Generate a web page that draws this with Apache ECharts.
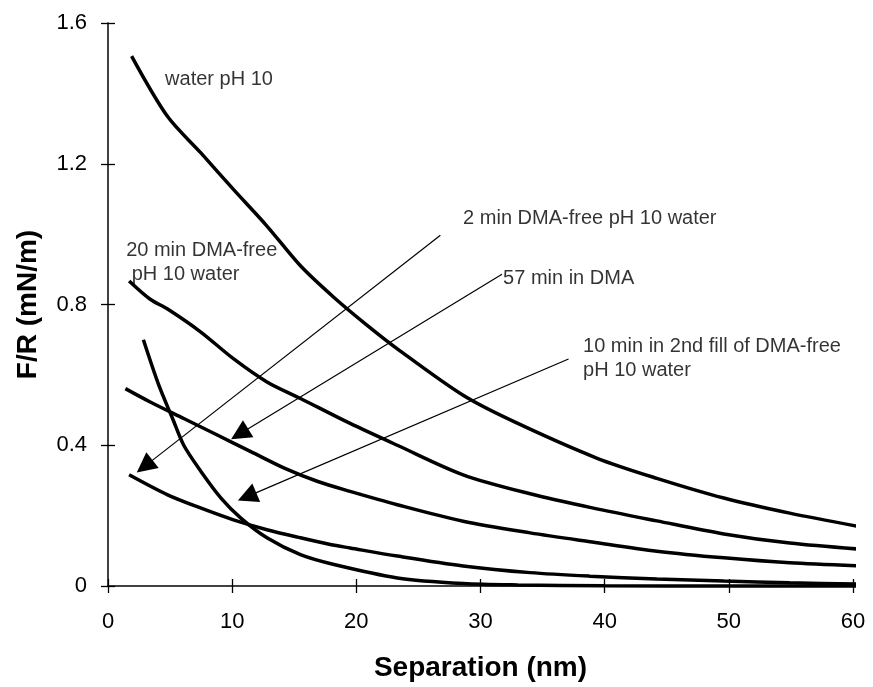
<!DOCTYPE html>
<html>
<head>
<meta charset="utf-8">
<script src="https://cdn.jsdelivr.net/npm/echarts@6/dist/echarts.min.js"></script>
<style>html,body{margin:0;padding:0;background:#fff}#c{width:873px;height:687px}</style>
</head>
<body>
<div id="c"></div>
<script>
// ---- data (Separation nm, F/R mN/m) ----
const xTicks = [0, 10, 20, 30, 40, 50, 60];
const yTicks = [0, 0.4, 0.8, 1.2, 1.6];

const sepWater = [1.9, 4.8, 7.5, 10.1, 12.8, 15.5, 18.2, 20.9, 23.3, 28.6, 32.7, 39.4, 44.2, 49.6, 54.9, 60.8];
const frWater  = [1.506, 1.334, 1.23, 1.127, 1.023, 0.91, 0.82, 0.74, 0.674, 0.542, 0.467, 0.363, 0.306, 0.25, 0.207, 0.167];

const sep20min = [1.7, 3.4, 4.8, 7.5, 10.1, 12.8, 15.5, 19.5, 23.3, 28.6, 34.0, 39.0, 44.2, 49.6, 54.9, 60.8];
const fr20min  = [0.867, 0.815, 0.787, 0.721, 0.646, 0.58, 0.533, 0.462, 0.40, 0.316, 0.262, 0.222, 0.185, 0.148, 0.122, 0.104];

const sep57min = [1.4, 3.4, 6.1, 8.8, 11.5, 14.2, 16.9, 19.5, 23.3, 28.6, 34.0, 39.0, 44.2, 49.6, 54.9, 60.8];
const fr57min  = [0.561, 0.523, 0.476, 0.429, 0.382, 0.335, 0.297, 0.269, 0.231, 0.184, 0.151, 0.125, 0.099, 0.080, 0.066, 0.057];

const sep10min = [2.85, 4.1, 5.2, 6.1, 7.5, 9.1, 10.7, 12.8, 15.5, 18.2, 23.3, 28.6, 33.0, 40.0, 50.0, 60.8];
const fr10min  = [0.70, 0.57, 0.476, 0.40, 0.325, 0.25, 0.193, 0.137, 0.089, 0.061, 0.023, 0.007, 0.003, 0.001, 0.0, 0.0];

const sep2min = [1.7, 4.8, 7.5, 10.1, 12.8, 15.5, 17.9, 19.5, 23.3, 28.6, 34.0, 38.8, 44.2, 49.6, 54.9, 60.8];
const fr2min  = [0.316, 0.259, 0.221, 0.188, 0.16, 0.137, 0.118, 0.108, 0.085, 0.057, 0.038, 0.028, 0.02, 0.014, 0.009, 0.005];

// annotation texts and anchors (data coordinates)
const noteTexts = ['water pH 10', '20 min DMA-free\n pH 10 water', '2 min DMA-free pH 10 water', '57 min in DMA', '10 min in 2nd fill of DMA-free\npH 10 water'];
const noteAnchors = [[4.64, 1.472], [1.5, 0.986], [28.64, 1.078], [31.86, 0.906], [38.3, 0.713]];
const arrowFrom = [[26.77, 0.997], [31.73, 0.886], [37.09, 0.645]];
const arrowTo   = [[2.95, 0.34], [10.6, 0.432], [11.2, 0.254]];

const zip = (a, b) => a.map((v, i) => [v, b[i]]);
const FONT = '"Liberation Sans", Arial, sans-serif';

const curveSeries = [[sepWater, frWater], [sep20min, fr20min], [sep57min, fr57min], [sep10min, fr10min], [sep2min, fr2min]].map(([x, y]) => ({
  type: 'line', xAxisIndex: 0, yAxisIndex: 0,
  data: zip(x, y), showSymbol: false, symbol: 'none',
  smooth: 0.3, clip: false,
  lineStyle: { color: '#000', width: 3.5 }, silent: true, animation: false
}));

const chart = echarts.init(document.getElementById('c'));
const baseX = { type: 'value', min: 0, max: 60, interval: 10, splitLine: { show: false } };
const baseY = { type: 'value', min: 0, max: 1.6, interval: 0.4, splitLine: { show: false } };

chart.setOption({
  animation: false,
  backgroundColor: '#fff',
  grid: { left: 108, right: 20, top: 23, bottom: 99, containLabel: false },
  xAxis: [
    Object.assign({}, baseX, {
      position: 'bottom',
      axisLine: { lineStyle: { color: '#000', width: 1.5 } },
      axisTick: { show: true, inside: false, length: 7, lineStyle: { color: '#000', width: 1.3 } },
      axisLabel: { fontSize: 22, color: '#000', fontFamily: FONT, margin: 25,
        formatter: v => xTicks.includes(v) ? String(v) : '' },
      name: 'Separation (nm)', nameLocation: 'middle', nameGap: 68,
      nameTextStyle: { fontSize: 28, fontWeight: 'bold', color: '#000', fontFamily: FONT }
    }),
    Object.assign({}, baseX, {
      position: 'bottom', axisLine: { show: false },
      axisTick: { show: true, inside: true, length: 7, lineStyle: { color: '#000', width: 1.3 } },
      axisLabel: { show: false }
    }),
    Object.assign({}, baseX, {
      position: 'top',
      axisLine: { show: true, lineStyle: { color: '#444', width: 1, type: 'dotted' } },
      axisTick: { show: false }, axisLabel: { show: false }
    })
  ],
  yAxis: [
    Object.assign({}, baseY, {
      position: 'left',
      axisLine: { lineStyle: { color: '#000', width: 1.5 } },
      axisTick: { show: true, inside: false, length: 7, lineStyle: { color: '#000', width: 1.3 } },
      axisLabel: { fontSize: 22, color: '#000', fontFamily: FONT, margin: 21,
        formatter: v => { const t = yTicks.find(k => Math.abs(k - v) < 1e-9); return t === undefined ? '' : (t === 0 ? '0' : t.toFixed(1)); } },
      name: 'F/R (mN/m)', nameLocation: 'middle', nameGap: 66,
      nameTextStyle: { fontSize: 28, fontWeight: 'bold', color: '#000', fontFamily: FONT }
    }),
    Object.assign({}, baseY, {
      position: 'left', axisLine: { show: false },
      axisTick: { show: true, inside: true, length: 7, lineStyle: { color: '#000', width: 1.3 } },
      axisLabel: { show: false }
    }),
    Object.assign({}, baseY, {
      position: 'right',
      axisLine: { show: true, lineStyle: { color: '#444', width: 1, type: 'dotted' } },
      axisTick: { show: false }, axisLabel: { show: false }
    })
  ],
  series: curveSeries.concat([
    {
      type: 'lines', coordinateSystem: 'cartesian2d', xAxisIndex: 0, yAxisIndex: 0,
      data: arrowFrom.map((f, i) => ({ coords: [f, arrowTo[i]] })),
      symbol: ['none', 'triangle'], symbolSize: 20,
      lineStyle: { color: '#000', width: 1.2, opacity: 1, curveness: 0 },
      silent: true, animation: false, clip: false
    },
    {
      type: 'scatter', xAxisIndex: 0, yAxisIndex: 0,
      data: noteAnchors.map((a, i) => ({ value: a, name: noteTexts[i] })),
      symbolSize: 1, itemStyle: { color: 'transparent' }, silent: true, clip: false,
      label: { show: true, position: [0, 0], align: 'left', verticalAlign: 'top',
        formatter: p => p.name, fontSize: 20, lineHeight: 24, color: '#000', fontFamily: FONT }
    }
  ])
});
</script>
</body>
</html>
